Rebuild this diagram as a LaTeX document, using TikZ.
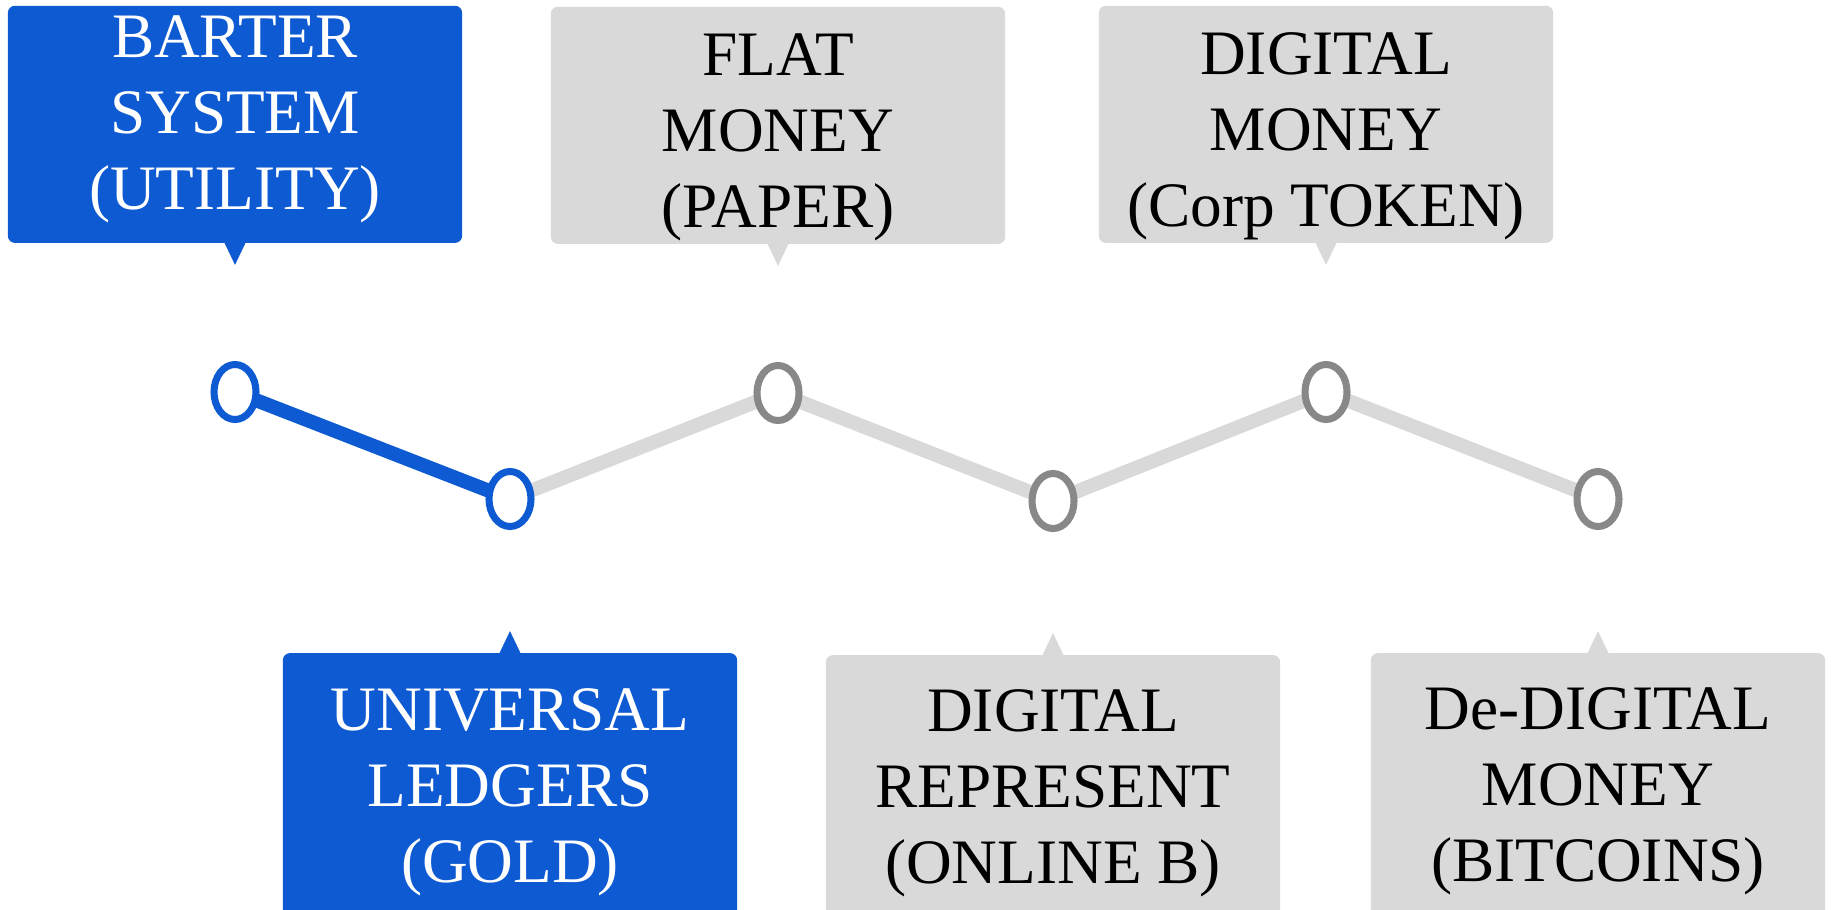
\documentclass[tikz,border=0pt]{standalone}
\usepackage{fontspec}
\setmainfont{Liberation Serif}
\usetikzlibrary{positioning, shapes.geometric, backgrounds}

\definecolor{stepblue}{HTML}{0E5AD2}
\definecolor{stepgray}{HTML}{D9D9D9}
\definecolor{ringgray}{HTML}{888888}

\begin{document}
\begin{tikzpicture}[
        x=0.01cm, y=0.01cm,
        dot/.style={ellipse, draw, fill=white, line width=2pt, minimum width=0.42cm, minimum height=0.55cm, inner sep=0pt},
        bluedot/.style={dot, draw=stepblue},
        graydot/.style={dot, draw=ringgray},
        card/.style={rectangle, rounded corners=2pt, minimum width=4.54cm, inner sep=0pt, outer sep=0pt},
        topcard/.style={card, minimum height=2.37cm},
        botcard/.style={card, minimum height=2.8cm},
        cardtext/.style={align=center, inner sep=0pt, font=\fontsize{18}{21.6}\selectfont},
        link/.style={line width=4pt}
    ]
        \useasboundingbox (0,0) rectangle (1831,-909);

        % timeline points
        \node[bluedot] (barterdot) at (235,-392) {};
        \node[bluedot] (ledgerdot) at (510,-499) {};
        \node[graydot] (paperdot) at (778,-393) {};
        \node[graydot] (onlinedot) at (1053,-501) {};
        \node[graydot] (tokendot) at (1326,-392) {};
        \node[graydot] (bitcoindot) at (1598,-499) {};

        \begin{scope}[on background layer]
            \draw[link, stepblue] (barterdot.center) -- (ledgerdot.center);
            \draw[link, stepgray] (ledgerdot.center) -- (paperdot.center);
            \draw[link, stepgray] (paperdot.center) -- (onlinedot.center);
            \draw[link, stepgray] (onlinedot.center) -- (tokendot.center);
            \draw[link, stepgray] (tokendot.center) -- (bitcoindot.center);
        \end{scope}

        % cards above
        \node[topcard, fill=stepblue, above=1.18cm of barterdot] (barter) {};
        \node[topcard, fill=stepgray, above=1.18cm of paperdot] (paper) {};
        \node[topcard, fill=stepgray, above=1.18cm of tokendot] (token) {};

        \fill[stepblue] ([xshift=-0.11cm, yshift=0.01cm]barter.south) -- ++(11,-23) -- ++(11,23) -- cycle;
        \fill[stepgray] ([xshift=-0.11cm, yshift=0.01cm]paper.south) -- ++(11,-23) -- ++(11,23) -- cycle;
        \fill[stepgray] ([xshift=-0.11cm, yshift=0.01cm]token.south) -- ++(11,-23) -- ++(11,23) -- cycle;

        \node[cardtext, text=white, below=0.09cm of barter.north] (bartertext) {BARTER\\SYSTEM\\(UTILITY)};
        \node[cardtext, below=0.26cm of paper.north] (papertext) {FLAT\\MONEY\\(PAPER)};
        \node[cardtext, below=0.26cm of token.north] (tokentext) {DIGITAL\\MONEY\\(Corp TOKEN)};

        % cards below
        \node[botcard, fill=stepblue, below=1.23cm of ledgerdot] (ledger) {};
        \node[botcard, fill=stepgray, below=1.23cm of onlinedot] (online) {};
        \node[botcard, fill=stepgray, below=1.23cm of bitcoindot] (bitcoin) {};

        \fill[stepblue] ([xshift=-0.11cm, yshift=-0.01cm]ledger.north) -- ++(11,23) -- ++(11,-23) -- cycle;
        \fill[stepgray] ([xshift=-0.11cm, yshift=-0.01cm]online.north) -- ++(11,23) -- ++(11,-23) -- cycle;
        \fill[stepgray] ([xshift=-0.11cm, yshift=-0.01cm]bitcoin.north) -- ++(11,23) -- ++(11,-23) -- cycle;

        \node[cardtext, text=white, below=0.35cm of ledger.north] (ledgertext) {UNIVERSAL\\LEDGERS\\(GOLD)};
        \node[cardtext, below=0.34cm of online.north] (onlinetext) {DIGITAL\\REPRESENT\\(ONLINE B)};
        \node[cardtext, below=0.34cm of bitcoin.north] (bitcointext) {De-DIGITAL\\MONEY\\(BITCOINS)};
    \end{tikzpicture}
\end{document}
